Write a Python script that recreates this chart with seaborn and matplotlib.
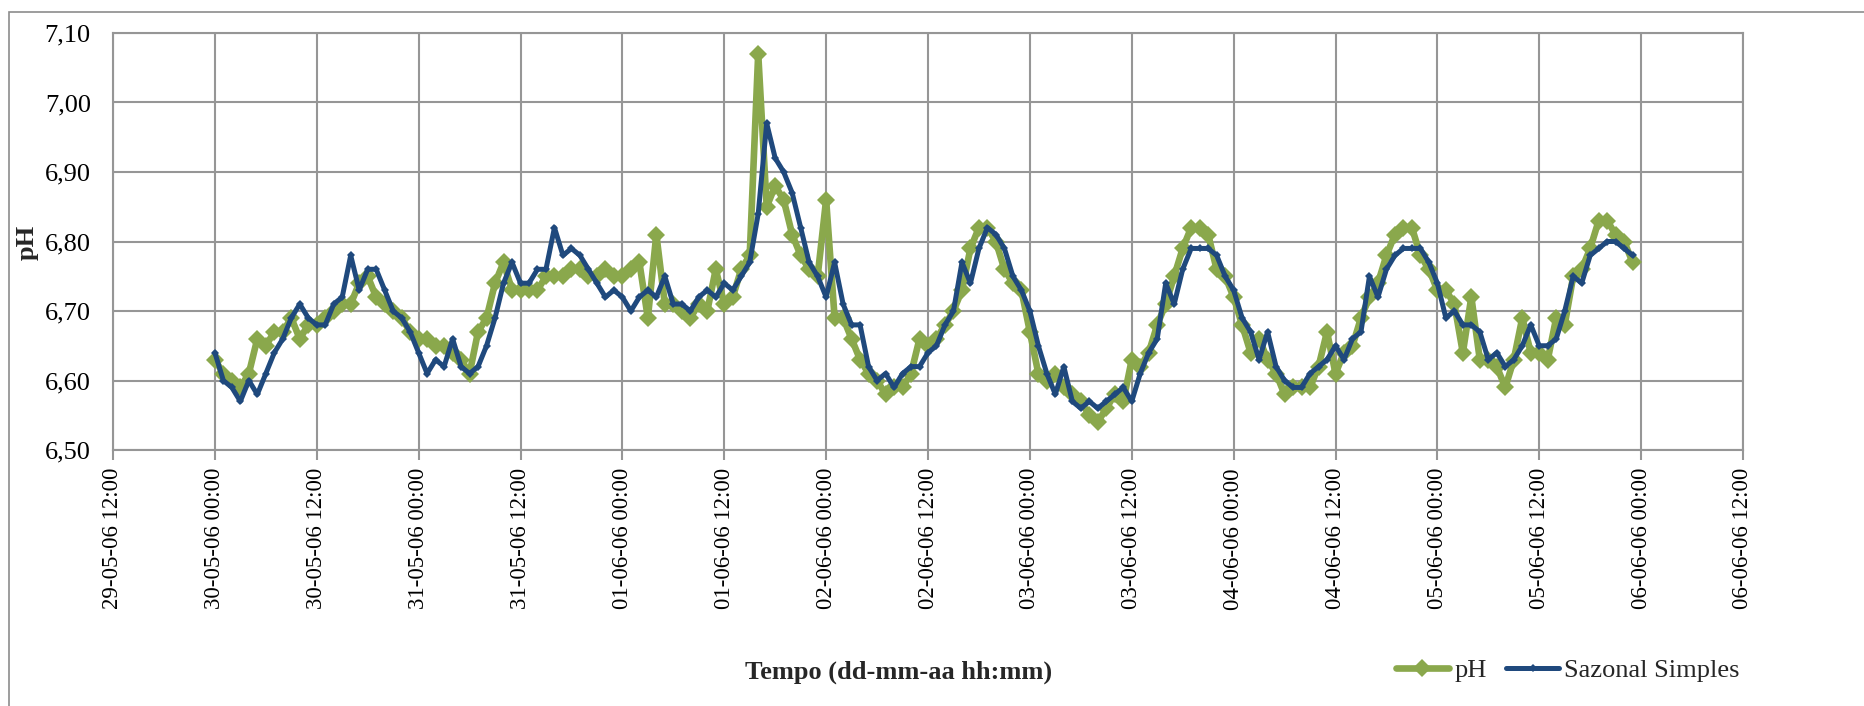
import numpy as np
import pandas as pd
import matplotlib
matplotlib.use("Agg")
import matplotlib.pyplot as plt
import matplotlib.dates as mdates
from matplotlib.patches import Rectangle
from matplotlib.ticker import FuncFormatter
import seaborn as sns

# ---------------- data (hourly, 30-05-06 00:00 .. 05-06-06 23:00) ----------------
start_time = "2006-05-30 00:00"

ph_values = [
    6.63, 6.61, 6.60, 6.59, 6.61, 6.66, 6.65, 6.67, 6.67, 6.69, 6.66, 6.68,
    6.68, 6.69, 6.70, 6.71, 6.71, 6.74, 6.75, 6.72, 6.71, 6.70, 6.69, 6.67,
    6.66, 6.66, 6.65, 6.65, 6.64, 6.63, 6.61, 6.67, 6.69, 6.74, 6.77, 6.73,
    6.73, 6.73, 6.73, 6.75, 6.75, 6.75, 6.76, 6.76, 6.75, 6.75, 6.76, 6.75,
    6.75, 6.76, 6.77, 6.69, 6.81, 6.71, 6.71, 6.70, 6.69, 6.71, 6.70, 6.76,
    6.71, 6.72, 6.76, 6.78, 7.07, 6.85, 6.88, 6.86, 6.81, 6.78, 6.76, 6.75,
    6.86, 6.69, 6.69, 6.66, 6.63, 6.61, 6.60, 6.58, 6.59, 6.59, 6.61, 6.66,
    6.65, 6.66, 6.68, 6.70, 6.73, 6.79, 6.82, 6.82, 6.80, 6.76, 6.74, 6.73,
    6.67, 6.61, 6.60, 6.61, 6.59, 6.58, 6.57, 6.55, 6.54, 6.56, 6.58, 6.57,
    6.63, 6.62, 6.64, 6.68, 6.71, 6.75, 6.79, 6.82, 6.82, 6.81, 6.76, 6.75,
    6.72, 6.68, 6.64, 6.66, 6.63, 6.61, 6.58, 6.59, 6.59, 6.59, 6.62, 6.67,
    6.61, 6.64, 6.65, 6.69, 6.72, 6.74, 6.78, 6.81, 6.82, 6.82, 6.78, 6.76,
    6.73, 6.73, 6.71, 6.64, 6.72, 6.63, 6.63, 6.62, 6.59, 6.63, 6.69, 6.64,
    6.64, 6.63, 6.69, 6.68, 6.75, 6.76, 6.79, 6.83, 6.83, 6.81, 6.80, 6.77,
]

sazonal_values = [
    6.64, 6.60, 6.59, 6.57, 6.60, 6.58, 6.61, 6.64, 6.66, 6.69, 6.71, 6.69,
    6.68, 6.68, 6.71, 6.72, 6.78, 6.73, 6.76, 6.76, 6.73, 6.70, 6.69, 6.67,
    6.64, 6.61, 6.63, 6.62, 6.66, 6.62, 6.61, 6.62, 6.65, 6.69, 6.74, 6.77,
    6.74, 6.74, 6.76, 6.76, 6.82, 6.78, 6.79, 6.78, 6.76, 6.74, 6.72, 6.73,
    6.72, 6.70, 6.72, 6.73, 6.72, 6.75, 6.71, 6.71, 6.70, 6.72, 6.73, 6.72,
    6.74, 6.73, 6.75, 6.77, 6.84, 6.97, 6.92, 6.90, 6.87, 6.82, 6.77, 6.75,
    6.72, 6.77, 6.71, 6.68, 6.68, 6.62, 6.60, 6.61, 6.59, 6.61, 6.62, 6.62,
    6.64, 6.65, 6.68, 6.70, 6.77, 6.74, 6.79, 6.82, 6.81, 6.79, 6.75, 6.73,
    6.70, 6.65, 6.61, 6.58, 6.62, 6.57, 6.56, 6.57, 6.56, 6.57, 6.58, 6.59,
    6.57, 6.61, 6.64, 6.66, 6.74, 6.71, 6.76, 6.79, 6.79, 6.79, 6.78, 6.75,
    6.73, 6.69, 6.67, 6.63, 6.67, 6.62, 6.60, 6.59, 6.59, 6.61, 6.62, 6.63,
    6.65, 6.63, 6.66, 6.67, 6.75, 6.72, 6.76, 6.78, 6.79, 6.79, 6.79, 6.77,
    6.74, 6.69, 6.70, 6.68, 6.68, 6.67, 6.63, 6.64, 6.62, 6.63, 6.65, 6.68,
    6.65, 6.65, 6.66, 6.70, 6.75, 6.74, 6.78, 6.79, 6.80, 6.80, 6.79, 6.78,
]

series_names = ["pH", "Sazonal Simples"]

x_tick_labels = [
    "29-05-06 12:00", "30-05-06 00:00", "30-05-06 12:00", "31-05-06 00:00",
    "31-05-06 12:00", "01-06-06 00:00", "01-06-06 12:00", "02-06-06 00:00",
    "02-06-06 12:00", "03-06-06 00:00", "03-06-06 12:00", "04-06-06 00:00",
    "04-06-06 12:00", "05-06-06 00:00", "05-06-06 12:00", "06-06-06 00:00",
    "06-06-06 12:00",
]
y_ticks = [6.50, 6.60, 6.70, 6.80, 6.90, 7.00, 7.10]

x_label = "Tempo (dd-mm-aa hh:mm)"
y_label = "pH"

# ---------------- style ----------------
sns.set_theme(style="white")
plt.rcParams["font.family"] = ["Liberation Serif", "DejaVu Serif"]

GREEN = "#8AA84C"
BLUE = "#1F497D"
GRID = "#969696"
FS = 19      # horizontal texts
FS_X = 16.5  # rotated x tick labels

W, H = 1864, 706
fig = plt.figure(figsize=(W / 100, H / 100), dpi=100)
fig.patch.set_facecolor("white")

# outer chart-area border (cut at right/bottom as in the reference)
fig.patches.append(Rectangle((9 / W, -0.05), 1.2, 1 - 12 / H + 0.05,
                             transform=fig.transFigure, fill=False,
                             edgecolor="#8c8c8c", lw=1.2, zorder=0))

ax = fig.add_axes([113 / W, (H - 450) / H, 1630 / W, 417 / H])
ax.set_facecolor("white")

times = pd.date_range(start_time, periods=len(ph_values), freq="h")
df_ph = pd.DataFrame({"Tempo": times, "valor": ph_values})
df_sz = pd.DataFrame({"Tempo": times, "valor": sazonal_values})

sns.lineplot(data=df_ph, x="Tempo", y="valor", ax=ax, color=GREEN, lw=4.8,
             marker="D", markersize=9.5, markeredgewidth=0,
             markerfacecolor=GREEN, label=series_names[0],
             solid_joinstyle="round", solid_capstyle="round", zorder=3)
sns.lineplot(data=df_sz, x="Tempo", y="valor", ax=ax, color=BLUE, lw=3.6,
             marker="D", markersize=4.5, markeredgewidth=0,
             markerfacecolor=BLUE, label=series_names[1],
             solid_joinstyle="round", solid_capstyle="round", zorder=4)

# axes limits / ticks
tick_times = pd.date_range("2006-05-29 12:00", periods=len(x_tick_labels), freq="12h")
ax.set_xlim(tick_times[0], tick_times[-1])
ax.set_xticks(tick_times)
ax.set_xticklabels(x_tick_labels, rotation=90, fontsize=FS_X)
ax.set_ylim(y_ticks[0], y_ticks[-1])
ax.set_yticks(y_ticks)
ax.yaxis.set_major_formatter(FuncFormatter(lambda v, p: f"{v:.2f}".replace(".", ",")))
ax.tick_params(axis="y", length=0, pad=16, labelsize=FS, colors="black")
ax.tick_params(axis="x", length=7, width=1.5, color=GRID, pad=6,
               direction="out", labelcolor="black", bottom=True)
ax.set_xlabel("")
ax.set_ylabel("")

ax.grid(True, color=GRID, lw=1.5)
ax.set_axisbelow(True)
for sp in ax.spines.values():
    sp.set_color(GRID)
    sp.set_linewidth(1.5)

fig.text(27 / W, 1 - 242 / H, y_label, rotation=90, fontweight="bold",
         ha="center", va="center", fontsize=FS)
fig.text(899 / W, 1 - 672 / H, x_label, fontweight="bold",
         ha="center", va="center", fontsize=FS)

leg = ax.legend(loc="center left", bbox_to_anchor=(1396 / W, 1 - 670 / H),
                bbox_transform=fig.transFigure, ncol=2, frameon=False,
                fontsize=FS, handlelength=2.0, handletextpad=0.2,
                columnspacing=0.75, borderpad=0, borderaxespad=0)

fig.savefig("out.png", dpi=100, facecolor="white")
